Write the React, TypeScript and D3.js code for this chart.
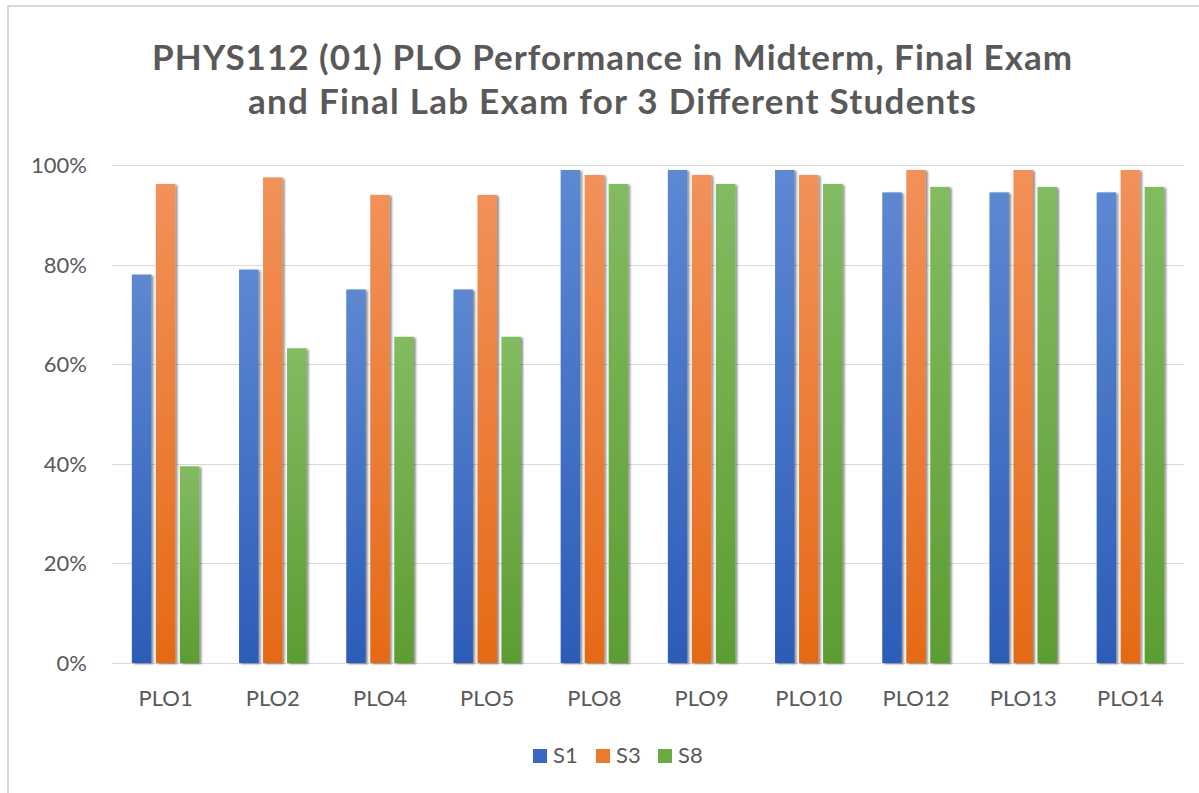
import React, { useRef, useEffect } from "react";
import * as d3 from "d3";

const categories = ["PLO1", "PLO2", "PLO4", "PLO5", "PLO8", "PLO9", "PLO10", "PLO12", "PLO13", "PLO14"];
const seriesNames = ["S1", "S3", "S8"];
const s1Values = [0.78, 0.79, 0.75, 0.75, 0.99, 0.99, 0.99, 0.945, 0.945, 0.945];
const s3Values = [0.962, 0.975, 0.94, 0.94, 0.98, 0.98, 0.98, 0.99, 0.99, 0.99];
const s8Values = [0.395, 0.632, 0.655, 0.655, 0.962, 0.962, 0.962, 0.956, 0.956, 0.956];
const yTicks = [0, 0.2, 0.4, 0.6, 0.8, 1];
const titleLines = [
  "PHYS112 (01) PLO Performance in Midterm, Final Exam",
  "and Final Lab Exam for 3 Different Students",
];
const titleWidths = [920, 728];

// top / bottom colours of each bar gradient, plus legend swatch
const palette = [
  { top: "#5d88d2", bottom: "#2c5cb8", key: "#3a67c0" },
  { top: "#f2915a", bottom: "#e56a16", key: "#ec7a2c" },
  { top: "#83bb61", bottom: "#5c9d32", key: "#6aab43" },
];

const FONT = "Lato, 'Open Sans', sans-serif";
const TEXT = "#595959";

export default function App() {
  const ref = useRef<SVGSVGElement>(null);

  useEffect(() => {
    const width = 1199, height = 793;
    const svg = d3.select(ref.current);
    svg.selectAll("*").remove();
    svg.attr("width", width).attr("height", height);

    const values = [s1Values, s3Values, s8Values];

    const defs = svg.append("defs");
    palette.forEach((p, i) => {
      const g = defs.append("linearGradient")
        .attr("id", `grad${i}`)
        .attr("x1", 0).attr("y1", 0).attr("x2", 0).attr("y2", 1);
      g.append("stop").attr("offset", "0%").attr("stop-color", p.top);
      g.append("stop").attr("offset", "100%").attr("stop-color", p.bottom);
    });
    const f = defs.append("filter").attr("id", "shadow")
      .attr("x", "-20%").attr("y", "-5%").attr("width", "150%").attr("height", "110%");
    f.append("feDropShadow")
      .attr("dx", 2).attr("dy", 1).attr("stdDeviation", 1.3)
      .attr("flood-color", "#000").attr("flood-opacity", 0.45);

    svg.append("rect").attr("width", width).attr("height", height).attr("fill", "#fff");
    // chart frame
    svg.append("rect")
      .attr("x", 8).attr("y", 6).attr("width", width + 20).attr("height", height + 20)
      .attr("fill", "none").attr("stroke", "#d9d9d9").attr("stroke-width", 2);

    const x = d3.scaleBand().domain(categories).range([112, 1184]).padding(0);
    const xSub = d3.scaleBand().domain(seriesNames).range([-33.75, 33.75]).paddingInner(0.1875);
    const y = d3.scaleLinear().domain([0, 1]).range([663, 165]);

    // title
    svg.append("g")
      .selectAll("text")
      .data(titleLines)
      .enter()
      .append("text")
      .attr("x", 612)
      .attr("y", (d, i) => 70 + i * 44)
      .attr("text-anchor", "middle")
      .attr("textLength", (d, i) => titleWidths[i])
      .attr("lengthAdjust", "spacing")
      .style("font-family", FONT)
      .style("font-size", "35px")
      .style("font-weight", 700)
      .style("fill", TEXT)
      .text(d => d);

    // gridlines
    svg.append("g")
      .selectAll("line")
      .data(yTicks)
      .enter()
      .append("line")
      .attr("x1", 112).attr("x2", 1184)
      .attr("y1", d => Math.round(y(d)) + 0.5)
      .attr("y2", d => Math.round(y(d)) + 0.5)
      .attr("stroke", "#d9d9d9")
      .attr("stroke-width", 1.2);

    // y tick labels
    svg.append("g")
      .selectAll("text")
      .data(yTicks)
      .enter()
      .append("text")
      .attr("x", 87)
      .attr("y", d => y(d))
      .attr("dy", "0.36em")
      .attr("text-anchor", "end")
      .style("font-family", FONT)
      .style("font-size", "22px")
      .style("fill", TEXT)
      .text(d => d3.format(".0%")(d));

    // bars
    seriesNames.forEach((s, si) => {
      svg.append("g")
        .attr("filter", "url(#shadow)")
        .selectAll("rect")
        .data(categories)
        .enter()
        .append("rect")
        .attr("x", d => (x(d) as number) + x.bandwidth() / 2 + (xSub(s) as number))
        .attr("y", (d, i) => y(values[si][i]))
        .attr("width", xSub.bandwidth())
        .attr("height", (d, i) => y(0) - y(values[si][i]))
        .attr("fill", `url(#grad${si})`);
    });

    // category labels
    svg.append("g")
      .selectAll("text")
      .data(categories)
      .enter()
      .append("text")
      .attr("x", d => (x(d) as number) + x.bandwidth() / 2)
      .attr("y", 706)
      .attr("text-anchor", "middle")
      .style("font-family", FONT)
      .style("font-size", "22px")
      .style("fill", TEXT)
      .text(d => d);

    // legend
    const legendX = [533, 596, 658];
    const lg = svg.append("g")
      .selectAll("g")
      .data(seriesNames)
      .enter()
      .append("g")
      .attr("transform", (d, i) => `translate(${legendX[i]},749)`);
    lg.append("rect")
      .attr("width", 14).attr("height", 14)
      .attr("fill", (d, i) => palette[i].key);
    lg.append("text")
      .attr("x", 20)
      .attr("y", 14)
      .style("font-family", FONT)
      .style("font-size", "22px")
      .style("fill", TEXT)
      .text(d => d);
  }, []);

  return (
    <div style={{ position: "absolute", left: 0, top: 0, width: 1199, height: 793, overflow: "hidden" }}>
      <svg ref={ref} style={{ display: "block" }}></svg>
    </div>
  );
}
